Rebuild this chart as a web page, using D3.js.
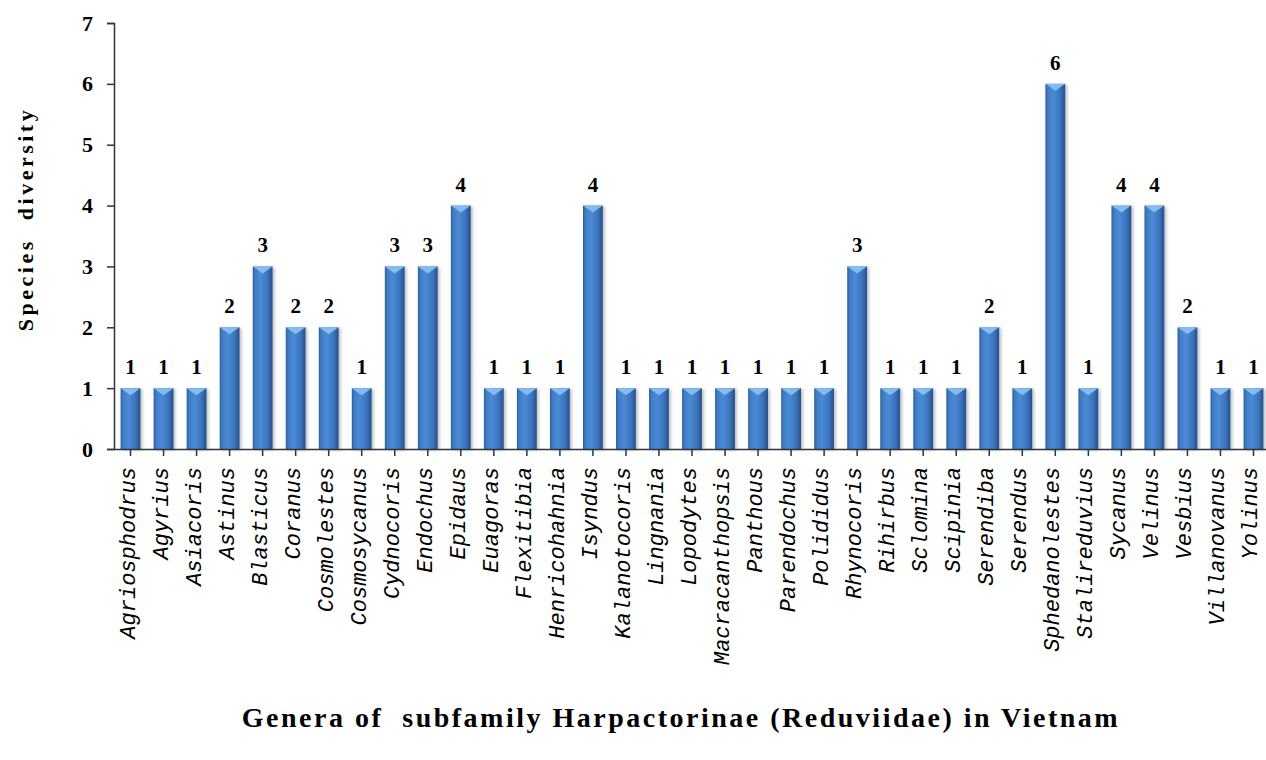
<!DOCTYPE html>
<html>
<head>
<meta charset="utf-8">
<script src="https://cdn.jsdelivr.net/npm/d3@7"></script>
<style>
  body { margin: 0; background: #fff; }
  svg { display: block; }
</style>
</head>
<body>
<div id="chart"></div>
<script>
// genera and number of species
const genera = ['Agriosphodrus', 'Agyrius', 'Asiacoris', 'Astinus', 'Blasticus', 'Coranus', 'Cosmolestes',
  'Cosmosycanus', 'Cydnocoris', 'Endochus', 'Epidaus', 'Euagoras', 'Flexitibia', 'Henricohahnia', 'Isyndus',
  'Kalanotocoris', 'Lingnania', 'Lopodytes', 'Macracanthopsis', 'Panthous', 'Parendochus', 'Polididus',
  'Rhynocoris', 'Rihirbus', 'Sclomina', 'Scipinia', 'Serendiba', 'Serendus', 'Sphedanolestes',
  'Stalireduvius', 'Sycanus', 'Velinus', 'Vesbius', 'Villanovanus', 'Yolinus'];
const species = [1, 1, 1, 2, 3, 2, 2, 1, 3, 3, 4, 1, 1, 1, 4, 1, 1, 1, 1, 1, 1, 1, 3, 1, 1, 1, 2, 1, 6, 1, 4, 4, 2, 1, 1];
const yTicks = [0, 1, 2, 3, 4, 5, 6, 7];

const width = 1266, height = 760;
const axisX = 114, axisY = 449, topY = 23;

const svg = d3.select('#chart').append('svg')
  .attr('width', width)
  .attr('height', height);

const defs = svg.append('defs');
const grad = defs.append('linearGradient')
  .attr('id', 'barGrad')
  .attr('x1', '0%').attr('x2', '100%').attr('y1', '0%').attr('y2', '0%');
[['0%', '#2c5c9c'], ['12%', '#3f7cc6'], ['40%', '#4a8bd6'], ['75%', '#3b74bd'], ['100%', '#24508c']]
  .forEach(s => grad.append('stop').attr('offset', s[0]).attr('stop-color', s[1]));

const shadow = defs.append('filter').attr('id', 'shadow')
  .attr('x', '-30%').attr('y', '-10%').attr('width', '160%').attr('height', '120%');
shadow.append('feDropShadow')
  .attr('dx', 2).attr('dy', 1).attr('stdDeviation', 1.5)
  .attr('flood-color', '#000').attr('flood-opacity', 0.25);

const x = d3.scaleBand()
  .domain(genera)
  .range([axisX, 1270])
  .paddingInner(0.4)
  .paddingOuter(0.2);

const y = d3.scaleLinear()
  .domain([0, 7])
  .range([axisY, topY]);

// bars
const bars = svg.append('g').selectAll('.bar')
  .data(genera.map((g, i) => ({ genus: g, value: species[i] })))
  .enter()
  .append('g')
  .attr('class', 'bar');

bars.append('rect')
  .attr('x', d => x(d.genus))
  .attr('y', d => y(d.value))
  .attr('width', x.bandwidth())
  .attr('height', d => axisY - y(d.value))
  .attr('fill', 'url(#barGrad)')
  .attr('filter', 'url(#shadow)');

// light bevel on top of each bar
bars.append('path')
  .attr('d', d => {
    const x0 = x(d.genus), w = x.bandwidth(), t = y(d.value);
    return `M${x0},${t} L${x0 + w},${t} L${x0 + w / 2},${t + 7} Z`;
  })
  .attr('fill', '#8cc2f2')
  .attr('opacity', 0.9);

// value labels
bars.append('text')
  .attr('x', d => x(d.genus) + x.bandwidth() / 2)
  .attr('y', d => y(d.value) - 14)
  .attr('text-anchor', 'middle')
  .attr('font-family', 'Liberation Serif, serif')
  .attr('font-weight', 'bold')
  .attr('font-size', '21px')
  .attr('fill', '#000')
  .text(d => d.value);

// y axis
const yAxis = svg.append('g')
  .attr('transform', `translate(${axisX},0)`)
  .call(d3.axisLeft(y).tickValues(yTicks).tickSize(7).tickPadding(14).tickFormat(d3.format('d')));
yAxis.select('.domain').attr('stroke', '#333').attr('stroke-width', 1.5);
yAxis.selectAll('.tick line').attr('stroke', '#333').attr('stroke-width', 1.5);
yAxis.selectAll('.tick text')
  .attr('font-family', 'Liberation Serif, serif')
  .attr('font-weight', 'bold')
  .attr('font-size', '22px')
  .attr('fill', '#000');

// x axis
const xAxis = svg.append('g')
  .attr('transform', `translate(0,${axisY})`)
  .call(d3.axisBottom(x).tickSize(7).tickSizeOuter(0));
xAxis.select('.domain').attr('stroke', '#333').attr('stroke-width', 1.5);
xAxis.selectAll('.tick line').attr('stroke', '#333').attr('stroke-width', 1.5);
xAxis.selectAll('.tick text')
  .attr('font-family', 'Liberation Mono, monospace')
  .attr('font-style', 'italic')
  .attr('font-size', '22px')
  .attr('fill', '#000')
  .attr('text-anchor', 'end')
  .attr('dy', null)
  .attr('transform', 'rotate(-90)')
  .attr('x', -18)
  .attr('y', 4);

// axis titles
svg.append('text')
  .attr('transform', `translate(33,219) rotate(-90)`)
  .attr('text-anchor', 'middle')
  .attr('font-family', 'Liberation Serif, serif')
  .attr('font-weight', 'bold')
  .attr('font-size', '22px')
  .attr('letter-spacing', '3.5px')
  .attr('xml:space', 'preserve')
  .text('Species  diversity');

svg.append('text')
  .attr('x', 681)
  .attr('y', 727)
  .attr('text-anchor', 'middle')
  .attr('font-family', 'Liberation Serif, serif')
  .attr('font-weight', 'bold')
  .attr('font-size', '28px')
  .attr('letter-spacing', '2.5px')
  .attr('xml:space', 'preserve')
  .text('Genera of  subfamily Harpactorinae (Reduviidae) in Vietnam');
</script>
</body>
</html>
